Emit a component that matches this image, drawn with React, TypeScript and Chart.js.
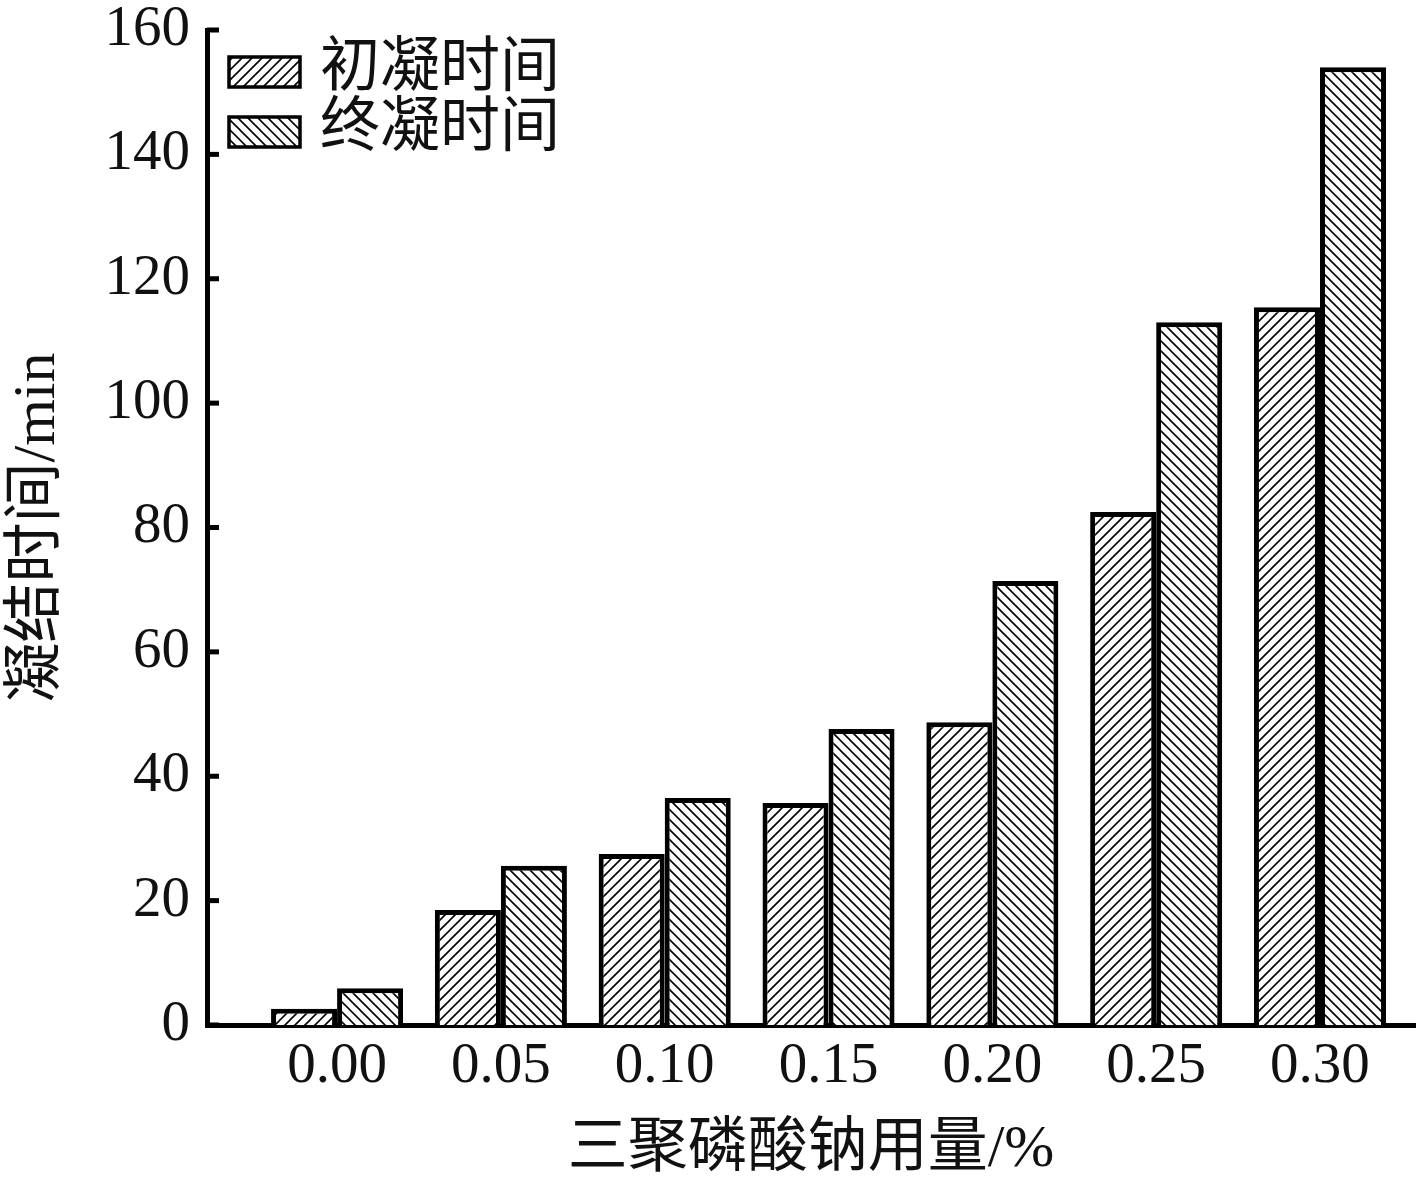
import React, { useEffect, useRef } from "react";
import { Chart, registerables } from "chart.js";

Chart.register(...registerables);

const doses = [0, 0.05, 0.1, 0.15, 0.2, 0.25, 0.3];
const doseLabels = ["0.00", "0.05", "0.10", "0.15", "0.20", "0.25", "0.30"];
const initialSet = [2.6, 18.5, 27.5, 35.7, 48.7, 82.5, 115.4];
const finalSet = [5.9, 25.6, 36.5, 47.6, 71.4, 113, 154];
const seriesNames = ["初凝时间", "终凝时间"];
const yTicks = [0, 20, 40, 60, 80, 100, 120, 140, 160];
const xTitle = "三聚磷酸钠用量/%";
const yTitle = "凝结时间/min";

const SERIF = "'Liberation Serif', 'Noto Sans CJK SC', serif";

function makeHatch(dir: "/" | "\\"): CanvasPattern | string {
  const s = 10;
  const c = document.createElement("canvas");
  c.width = s;
  c.height = s;
  const g = c.getContext("2d");
  if (!g) return "#fff";
  g.fillStyle = "#fff";
  g.fillRect(0, 0, s, s);
  g.strokeStyle = "#000";
  g.lineWidth = 1.6;
  g.beginPath();
  if (dir === "/") {
    g.moveTo(-1, s + 1); g.lineTo(s + 1, -1);
    g.moveTo(-1, 1); g.lineTo(1, -1);
    g.moveTo(s - 1, s + 1); g.lineTo(s + 1, s - 1);
  } else {
    g.moveTo(-1, -1); g.lineTo(s + 1, s + 1);
    g.moveTo(s - 1, -1); g.lineTo(s + 1, 1);
    g.moveTo(-1, s - 1); g.lineTo(1, s + 1);
  }
  g.stroke();
  return g.createPattern(c, "repeat") || "#fff";
}

const innerTicks = {
  id: "innerTicks",
  afterDraw(chart: any) {
    const y = chart.scales.y;
    const ctx = chart.ctx;
    ctx.save();
    ctx.strokeStyle = "#000";
    ctx.lineWidth = 5;
    y.ticks.forEach((t: any) => {
      const py = y.getPixelForValue(t.value);
      ctx.beginPath();
      ctx.moveTo(y.right, py);
      ctx.lineTo(y.right + 12, py);
      ctx.stroke();
    });
    ctx.restore();
  },
};

const innerLegend = {
  id: "innerLegend",
  afterDraw(chart: any) {
    const ctx = chart.ctx;
    const left = chart.chartArea.left + 22;
    ctx.save();
    chart.data.datasets.forEach((ds: any, i: number) => {
      const top = 57 + i * 60;
      ctx.fillStyle = ds.backgroundColor;
      ctx.fillRect(left, top, 71, 30);
      ctx.strokeStyle = "#000";
      ctx.lineWidth = 3.5;
      ctx.strokeRect(left, top, 71, 30);
      ctx.fillStyle = "#111";
      ctx.font = `60px ${SERIF}`;
      ctx.textBaseline = "middle";
      ctx.textAlign = "left";
      ctx.fillText(ds.label, left + 91, top + 13);
    });
    ctx.restore();
  },
};

export default function App() {
  const ref = useRef<HTMLCanvasElement | null>(null);

  useEffect(() => {
    if (!ref.current) return;
    const hatchA = makeHatch("/");
    const hatchB = makeHatch("\\");
    const chart = new Chart(ref.current, {
      type: "bar",
      data: {
        datasets: [
          {
            label: seriesNames[0],
            data: doses.map((x, i) => ({ x, y: initialSet[i] })),
            backgroundColor: hatchA as any,
            borderColor: "#000",
            borderWidth: 5,
            categoryPercentage: 0.806,
            barPercentage: 1,
          },
          {
            label: seriesNames[1],
            data: doses.map((x, i) => ({ x, y: finalSet[i] })),
            backgroundColor: hatchB as any,
            borderColor: "#000",
            borderWidth: 5,
            categoryPercentage: 0.806,
            barPercentage: 1,
          },
        ],
      },
      options: {
        animation: false,
        responsive: true,
        maintainAspectRatio: false,
        layout: { padding: { left: 0, right: 2, top: 30, bottom: 0 } },
        plugins: { legend: { display: false }, tooltip: { enabled: false } },
        scales: {
          x: {
            type: "linear",
            offset: false,
            min: -0.0397,
            max: 0.329,
            grid: { display: false, drawTicks: false },
            border: { display: true, color: "#000", width: 5 },
            afterBuildTicks: (s: any) => {
              s.ticks = doses.map((v) => ({ value: v }));
            },
            ticks: {
              padding: 8,
              color: "#111",
              font: { family: SERIF, size: 57 },
              callback: (_v: any, i: number) => doseLabels[i],
            },
            title: {
              display: true,
              text: xTitle,
              color: "#111",
              font: { family: SERIF, size: 60, lineHeight: 1 },
              padding: { top: 0, bottom: 1 },
            },
            afterFit: (s: any) => {
              s.height = 156;
              s.paddingLeft = 0;
              s.paddingRight = 0;
            },
          },
          y: {
            min: 0,
            max: 160,
            grid: { display: false, drawTicks: false },
            border: { display: true, color: "#000", width: 5 },
            afterBuildTicks: (s: any) => {
              s.ticks = yTicks.map((v) => ({ value: v }));
            },
            ticks: {
              padding: 17,
              color: "#111",
              font: { family: SERIF, size: 57 },
            },
            title: {
              display: true,
              text: yTitle,
              color: "#111",
              font: { family: SERIF, size: 60, lineHeight: 1.2 },
              padding: { top: 2, bottom: 0 },
            },
            afterFit: (s: any) => {
              s.width = 207;
              s.paddingTop = 0;
              s.paddingBottom = 0;
            },
          },
        },
      } as any,
      plugins: [innerTicks, innerLegend],
    });
    return () => chart.destroy();
  }, []);

  return (
    <div style={{ position: "fixed", left: 0, top: 0, width: 1417, height: 1181, background: "#fff" }}>
      <canvas ref={ref} />
    </div>
  );
}
